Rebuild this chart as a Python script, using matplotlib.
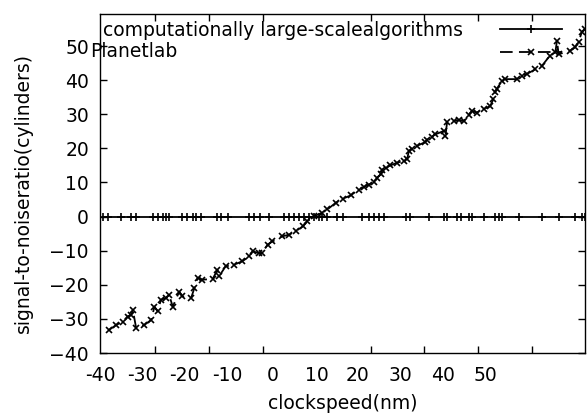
import matplotlib.pyplot as plt

plt.rcParams['font.family'] = ['DejaVu Sans']
plt.rcParams['font.size'] = 13.5

# first series lies flat on zero
algo_x = [-39.6, -38.8, -36.3, -34.4, -33.5, -30.4, -29.5, -28.6, -28.0, -27.4,
          -24.9, -24.0, -23.0, -22.4, -21.5, -18.4, -17.8, -16.5, -12.5, -11.6,
          -10.6, -8.8, -6.1, -5.1, -4.2, -3.3, -2.4, -1.4, -0.5, 0.4,
          1.0, 2.0, 3.8, 4.8, 8.4, 9.7, 10.6, 11.5, 12.5, 16.5,
          17.4, 20.8, 23.6, 24.2, 26.0, 26.7, 28.2, 28.8, 31.0, 33.1,
          33.8, 34.4, 37.5, 41.8, 44.9, 48.0, 49.2, 49.8]
algo_y = [0.0] * len(algo_x)

# second series, in drawing order (it zig-zags)
planet_x = [-38.5, -37.2, -36.0, -35.1, -34.4, -34.1, -33.5, -32.0, -30.7, -30.1,
            -29.5, -28.9, -28.0, -27.4, -26.7, -25.5, -24.9, -23.3, -22.7, -22.1,
            -21.2, -19.3, -18.4, -18.1, -16.9, -15.3, -13.8, -12.5, -11.9, -10.7,
            -10.1, -9.1, -8.2, -6.4, -5.1, -3.9, -2.6, -1.7, -0.5, 1.0,
            2.0, 3.5, 4.8, 6.3, 7.8, 8.8, 9.7, 10.6, 11.2, 11.9,
            12.2, 12.8, 13.7, 14.9, 16.2, 16.8, 17.1, 17.7, 18.6, 20.2,
            20.5, 21.4, 22.0, 23.6, 23.9, 24.2, 25.4, 26.4, 27.3, 28.2,
            28.8, 29.7, 31.0, 32.2, 32.8, 33.1, 33.4, 34.4, 35.0, 37.2,
            38.1, 39.0, 40.6, 41.8, 43.3, 44.3, 44.6, 44.9, 47.0, 47.9,
            48.6, 49.2, 49.8]
planet_y = [-33.2, -31.8, -30.8, -29.3, -28.8, -27.4, -32.7, -31.8, -30.3, -26.4,
            -27.8, -24.4, -23.9, -22.9, -26.4, -22.0, -23.4, -23.9, -21.0, -18.0,
            -18.5, -18.3, -15.6, -17.5, -14.6, -14.1, -13.1, -11.7, -10.2, -10.7,
            -10.7, -8.2, -7.3, -5.8, -5.3, -4.3, -2.9, -1.4, 0.1, 1.1,
            2.1, 4.0, 5.2, 6.2, 7.9, 8.7, 9.4, 10.1, 11.4, 12.4,
            13.8, 14.3, 15.0, 15.8, 16.3, 16.8, 19.2, 19.9, 20.7, 21.9,
            22.6, 23.4, 24.1, 25.1, 23.6, 27.6, 28.0, 28.3, 28.0, 29.7,
            31.0, 30.5, 31.5, 32.4, 34.4, 36.4, 37.4, 39.8, 40.3, 40.3,
            41.3, 41.8, 43.2, 44.2, 47.2, 48.2, 51.6, 47.6, 48.6, 49.6,
            51.1, 54.1, 55.1]

series_names = ['computationally large-scalealgorithms', 'Planetlab']

# the x labels in the picture do not sit on the tick marks
xtick_labels = ['-40', '-30', '-20', '-10', '0', '10', '20', '30', '40', '50']
xtick_label_pos = [-40.2, -32.4, -24.6, -16.5, -8.1, 0.0, 7.6, 15.6, 23.5, 31.3]
xtick_marks = [-30, -20, -10, 0, 10, 20, 30, 40]
yticks = [-40, -30, -20, -10, 0, 10, 20, 30, 40, 50]

fig = plt.figure(figsize=(5.87, 4.18), dpi=100)
ax = fig.add_axes([0.1704, 0.1555, 0.8262, 0.811])

l1, = ax.plot(algo_x, algo_y, color='black', lw=1.3, marker='+', ms=6, mew=1.2)
l2, = ax.plot(planet_x, planet_y, color='black', lw=1.3, ls=(0, (7, 3.5)),
              marker='x', ms=5, mew=1.2)

ax.set_xlim(-40, 49.8)
ax.set_ylim(-40, 59.4)

ax.set_xticks(xtick_label_pos)
ax.set_xticklabels(xtick_labels)
ax.tick_params(axis='x', which='major', length=0, pad=9)
ax.set_xticks(xtick_marks, minor=True)
ax.tick_params(axis='x', which='minor', direction='in', length=5, top=True, width=1)
ax.set_yticks(yticks)
ax.tick_params(axis='y', direction='in', length=5, right=True, pad=8, width=1)

for s in ax.spines.values():
    s.set_linewidth(1.0)

ax.set_xlabel('clockspeed(nm)', labelpad=7)
ax.set_ylabel('signal-to-noiseratio(cylinders)')
ax.yaxis.set_label_coords(-0.138, 0.472)

# gnuplot-style key: names on the left, samples on the right
ax.text(0.006, 0.950, series_names[0], transform=ax.transAxes, va='center', ha='left')
ax.text(-0.02, 0.888, series_names[1], transform=ax.transAxes, va='center', ha='left')
ax.legend([l1, l2], ['', ''], loc='upper left', bbox_to_anchor=(0.825, 0.982),
          frameon=False, handlelength=3.3, handletextpad=0.0, borderpad=0.0,
          labelspacing=0.25, borderaxespad=0.0)

plt.savefig('out.png', dpi=100)
